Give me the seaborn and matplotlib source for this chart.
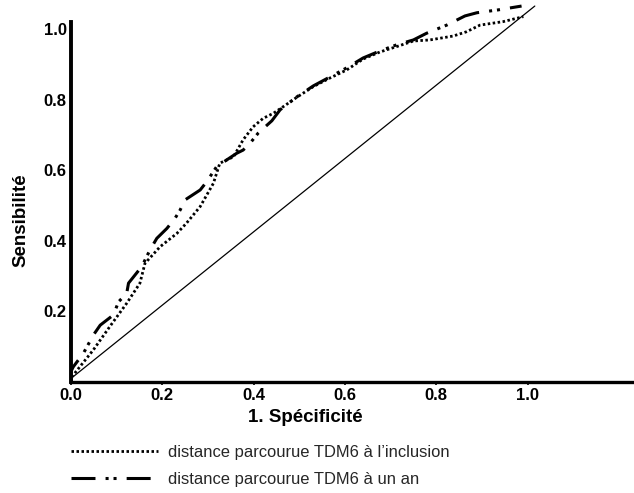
import matplotlib
matplotlib.use("Agg")
import matplotlib.pyplot as plt
import seaborn as sns
import pandas as pd

# ---- data ----
inclusion_x = [0.0, 0.002, 0.049, 0.085, 0.122, 0.151, 0.162, 0.195, 0.232, 0.253, 0.283, 0.312,
               0.326, 0.356, 0.377, 0.399, 0.421, 0.443, 0.465, 0.494, 0.531, 0.567, 0.604,
               0.640, 0.677, 0.713, 0.750, 0.786, 0.837, 0.866, 0.896, 0.947, 0.991]
inclusion_y = [0.0, 0.015, 0.091, 0.157, 0.223, 0.280, 0.336, 0.383, 0.421, 0.450, 0.497, 0.563,
               0.620, 0.638, 0.686, 0.723, 0.747, 0.761, 0.780, 0.806, 0.837, 0.861, 0.884,
               0.915, 0.935, 0.950, 0.966, 0.969, 0.980, 0.992, 1.011, 1.021, 1.035]

un_an_x = [0.0, 0.0, 0.005, 0.027, 0.049, 0.064, 0.093, 0.104, 0.122, 0.126, 0.155, 0.173, 0.188,
           0.210, 0.228, 0.239, 0.250, 0.283, 0.297, 0.319, 0.363, 0.377, 0.392, 0.410,
           0.440, 0.458, 0.494, 0.531, 0.567, 0.604, 0.640, 0.677, 0.713, 0.750, 0.779,
           0.823, 0.863, 0.889, 0.935, 0.987]
un_an_y = [0.0, 0.03, 0.043, 0.081, 0.133, 0.161, 0.190, 0.227, 0.251, 0.280, 0.327, 0.374, 0.407,
           0.435, 0.464, 0.487, 0.516, 0.544, 0.567, 0.610, 0.648, 0.657, 0.676, 0.705,
           0.740, 0.771, 0.807, 0.839, 0.864, 0.890, 0.918, 0.938, 0.955, 0.969, 0.988,
           1.011, 1.037, 1.046, 1.054, 1.065]

ref_x = [0.0, 1.016]
ref_y = [0.01, 1.065]

x_ticks = [0.0, 0.2, 0.4, 0.6, 0.8, 1.0]
y_ticks = [0.2, 0.4, 0.6, 0.8, 1.0]

label_inclusion = "distance parcourue TDM6 à l’inclusion"
label_un_an = "distance parcourue TDM6 à un an"

# ---- style ----
sns.set_theme(style="white")
plt.rcParams["font.family"] = ["Liberation Sans", "DejaVu Sans"]

fig = plt.figure(figsize=(6.34, 4.93), dpi=100)
W, H = 634, 493
ax = fig.add_axes([71 / W, 1 - 382 / H, 562 / W, 382 / H])

df_inc = pd.DataFrame({"x": inclusion_x, "y": inclusion_y})
df_an = pd.DataFrame({"x": un_an_x, "y": un_an_y})
df_ref = pd.DataFrame({"x": ref_x, "y": ref_y})

sns.lineplot(data=df_ref, x="x", y="y", ax=ax, color="black", linewidth=0.9,
             sort=False, estimator=None)
sns.lineplot(data=df_inc, x="x", y="y", ax=ax, color="black", linewidth=2.0,
             linestyle=(0, (0.9, 0.9)), sort=False, estimator=None,
             label=label_inclusion)
sns.lineplot(data=df_an, x="x", y="y", ax=ax, color="black", linewidth=2.2,
             linestyle=(0, (7.85, 3.3, 1.0, 1.6, 1.0, 3.3)), sort=False, estimator=None,
             label=label_un_an)

ax.set_xlim(0, 562 / 456.5)
ax.set_ylim(0, 382 / 353)
ax.set_xticks(x_ticks)
ax.set_xticklabels([f"{v:.1f}" for v in x_ticks], fontsize=12, fontweight="bold")
ax.set_yticks(y_ticks)
ax.set_yticklabels([f"{v:.1f}" for v in y_ticks], fontsize=12, fontweight="bold")
ax.tick_params(axis="x", length=2.5, width=1.2, pad=1.5, direction="out", colors="black",
               bottom=True)
ax.tick_params(axis="y", length=0, pad=3, colors="black", left=True)

for s in ["top", "right"]:
    ax.spines[s].set_visible(False)
ax.spines["left"].set_linewidth(2.8)
ax.spines["bottom"].set_linewidth(2.4)
ax.spines["left"].set_color("black")
ax.spines["bottom"].set_color("black")
ax.spines["left"].set_bounds(0, 360 / 353)

ax.set_xlabel("1. Spécificité", fontsize=13.5, fontweight="bold", color="black")
ax.set_ylabel("Sensibilité", fontsize=13.5, fontweight="bold", color="black")
ax.xaxis.set_label_coords((305 - 71) / 562, -(418 - 382) / 382)
ax.yaxis.set_label_coords((21 - 71) / 562, (382 - 220) / 382)
ax.xaxis.label.set_va("center")
ax.yaxis.label.set_va("center")
ax.yaxis.label.set_rotation_mode("default")

leg = ax.legend(loc="upper left", bbox_to_anchor=(71 / W, 1 - 445 / H),
                bbox_transform=fig.transFigure, frameon=False, fontsize=11.9,
                handlelength=5.27, handletextpad=0.6, labelspacing=0.72,
                borderpad=0, borderaxespad=0)

fig.savefig("out.png", dpi=100)
